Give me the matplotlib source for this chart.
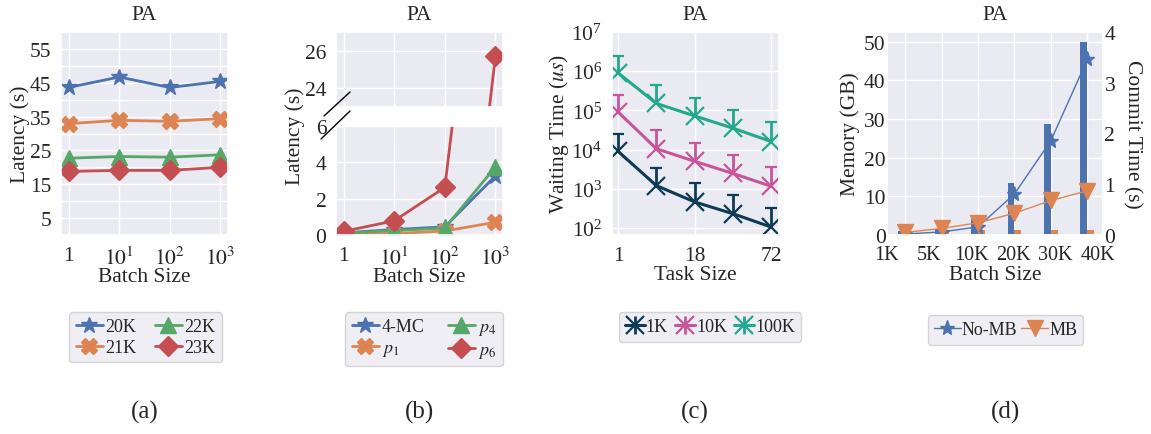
import numpy as np
import matplotlib
matplotlib.use('Agg')
import matplotlib.pyplot as plt
import seaborn as sns
from matplotlib.lines import Line2D

# ---------------- data ----------------
batch_sizes = [1, 10, 100, 1000]
batch_tick_labels = ['1', '$10^1$', '$10^2$', '$10^3$']

a_labels = ['20K', '21K', '22K', '23K']
a_20k = [43.6, 46.7, 43.6, 45.4]
a_21k = [32.9, 33.9, 33.6, 34.4]
a_22k = [22.7, 23.2, 23.0, 23.7]
a_23k = [18.8, 19.1, 19.1, 20.0]

b_labels = ['4-MC', '$p_1$', '$p_4$', '$p_6$']
b_4mc = [0.12, 0.30, 0.45, 3.25]
b_p1 = [0.08, 0.08, 0.22, 0.70]
b_p4 = [0.10, 0.25, 0.38, 3.75]
b_p6 = [0.20, 0.78, 2.62, 25.7]

c_task_sizes = ['1', '9', '18', '36', '72']
c_tick_labels = ['1', '18', '72']
c_labels = ['1K', '10K', '100K']
c_1k_mean = [9000, 1200, 460, 230, 105]
c_1k_upper = [25000, 3400, 1400, 680, 330]
c_10k_mean = [91000, 10500, 5000, 2450, 1150]
c_10k_upper = [240000, 32000, 15000, 7400, 3500]
c_100k_mean = [900000, 150000, 72000, 35000, 16000]
c_100k_upper = [2500000, 440000, 210000, 105000, 50000]

d_batch_labels = ['1K', '5K', '10K', '20K', '30K', '40K']
d_labels = ['No-MB', 'MB']
d_mem_nomb = [1.1, 1.6, 4.2, 13.5, 28.8, 50.0]
d_mem_mb = [1.0, 1.2, 1.2, 1.2, 1.2, 1.2]
d_commit_nomb = [0.02, 0.06, 0.16, 0.81, 1.86, 3.46]
d_commit_mb = [0.05, 0.13, 0.24, 0.43, 0.68, 0.87]

# ---------------- style ----------------
sns.set_theme(style='darkgrid')
plt.rcParams['font.family'] = ['Liberation Serif', 'DejaVu Serif']
plt.rcParams['mathtext.fontset'] = 'stix'
plt.rcParams['axes.unicode_minus'] = False

BLUE, ORANGE, GREEN, RED = '#4C72B0', '#DD8452', '#55A868', '#C44E52'
NAVY, PINK, TEAL = '#0d3b56', '#c7559a', '#22a88c'
FS = 15.5
LFS = 13

W, H = 1151, 435
fig = plt.figure(figsize=(W / 100, H / 100), dpi=100)


def px_axes(l, t, r, b):
    return fig.add_axes([l / W, 1 - b / H, (r - l) / W, (b - t) / H])


def style_ax(ax):
    ax.tick_params(axis='y', labelsize=FS, pad=1)
    ax.tick_params(axis='x', labelsize=FS, pad=2)


# ---------------- (a) ----------------
axa = px_axes(61, 33, 228, 236)
for ys, c, m, ms in [(a_20k, BLUE, '*', 12), (a_21k, ORANGE, 'X', 12),
                     (a_22k, GREEN, '^', 11), (a_23k, RED, 'D', 10)]:
    axa.plot(batch_sizes, ys, color=c, marker=m, ms=ms, lw=2)
axa.set_xscale('log')
axa.set_xticks(batch_sizes)
axa.set_xticklabels(batch_tick_labels)
axa.xaxis.set_minor_locator(matplotlib.ticker.NullLocator())
axa.set_ylim(0, 60)
axa.set_yticks(np.arange(5, 60, 10))
axa.set_yticks(np.arange(10, 60, 10), minor=True)
axa.grid(True, which='minor', axis='y', color='white', lw=1)
axa.tick_params(which='minor', length=0)
style_ax(axa)
axa.set_xlabel('Batch Size', fontsize=FS, labelpad=-1)
axa.set_ylabel('Latency (s)', fontsize=FS, labelpad=0)
axa.set_title('PA', fontsize=FS, pad=9)
fig.legend(axa.get_lines(), a_labels, loc='upper center', ncol=2,
           bbox_to_anchor=(145.5 / W, 1 - 304 / H), fontsize=LFS,
           handlelength=1.5, handletextpad=0.15, columnspacing=1.0,
           labelspacing=0.2, borderpad=0.35, frameon=True)

# ---------------- (b) ----------------
axb_top = px_axes(336, 33, 503, 108)
axb_bot = px_axes(336, 127, 503, 236)
for ax in (axb_top, axb_bot):
    for ys, c, m, ms in [(b_4mc, BLUE, '*', 12), (b_p1, ORANGE, 'X', 12),
                         (b_p4, GREEN, '^', 11), (b_p6, RED, 'D', 10)]:
        ax.plot(batch_sizes, ys, color=c, marker=m, ms=ms, lw=2)
    ax.set_xscale('log')
    ax.set_xticks(batch_sizes)
    ax.xaxis.set_minor_locator(matplotlib.ticker.NullLocator())
    style_ax(ax)
axb_top.set_xticklabels([])
axb_bot.set_xticklabels(batch_tick_labels)
axb_top.set_ylim(23, 27)
axb_top.set_yticks([24, 26])
axb_bot.set_ylim(0, 6)
axb_bot.set_yticks([0, 2, 4, 6])
xl = axb_bot.get_xlim()
axb_top.set_xlim(xl)
axb_bot.set_xlabel('Batch Size', fontsize=FS, labelpad=-1)
axb_top.set_title('PA', fontsize=FS, pad=9)
fig.text(295 / W, 1 - 136 / H, 'Latency (s)', rotation=90, fontsize=FS,
         ha='center', va='center')
for (x0, y0, x1, y1) in [(324, 117, 350, 93), (321, 140, 350, 112)]:
    fig.add_artist(Line2D([x0 / W, x1 / W], [1 - y0 / H, 1 - y1 / H],
                          color='black', lw=1, transform=fig.transFigure))
fig.legend(axb_bot.get_lines(), b_labels, loc='upper center', ncol=2,
           bbox_to_anchor=(424 / W, 1 - 304 / H), fontsize=LFS,
           handlelength=1.5, handletextpad=0.15, columnspacing=1.3,
           labelspacing=0.2, borderpad=0.35, frameon=True)

# ---------------- (c) ----------------
axc = px_axes(612, 33, 779, 236)
xc = np.arange(len(c_task_sizes))
handles_c = []
for mean, up, c in [(c_1k_mean, c_1k_upper, NAVY), (c_10k_mean, c_10k_upper, PINK),
                    (c_100k_mean, c_100k_upper, TEAL)]:
    mean = np.array(mean, float)
    up = np.array(up, float)
    cont = axc.errorbar(xc, mean, yerr=[np.zeros_like(mean), up - mean], color=c,
                        marker='x', ms=13, mew=1.6, lw=2.2, elinewidth=2,
                        capsize=4, capthick=2)
    cont[1][0].set_visible(False)
    handles_c.append(cont)
axc.set_yscale('log')
axc.set_ylim(66, 1e7)
axc.set_xlim(-0.16, 4.2)
axc.set_xticks([0, 2, 4])
axc.set_xticklabels(c_tick_labels)
axc.yaxis.set_minor_locator(matplotlib.ticker.NullLocator())
axc.set_yticks([1e2, 1e3, 1e4, 1e5, 1e6, 1e7])
style_ax(axc)
axc.set_xlabel('Task Size', fontsize=FS, labelpad=0)
axc.set_ylabel('Waiting Time ($us$)', fontsize=FS, labelpad=0)
axc.set_title('PA', fontsize=FS, pad=9)
fig.legend(handles_c, c_labels, loc='upper center', ncol=3,
           bbox_to_anchor=(710 / W, 1 - 304 / H), fontsize=LFS,
           handlelength=1.1, handletextpad=0.05, columnspacing=0.4,
           borderpad=0.35, frameon=True)

# ---------------- (d) ----------------
axd = px_axes(887, 33, 1103, 236)
xd = np.arange(len(d_batch_labels))
bw = 0.19
axd.bar(xd - bw / 2, d_mem_nomb, width=bw, color=BLUE, linewidth=0)
axd.bar(xd + bw / 2, d_mem_mb, width=bw, color=ORANGE, linewidth=0)
axd.set_xlim(-0.43, 5.43)
axd.set_ylim(0, 52.5)
axd.set_yticks([0, 10, 20, 30, 40, 50])
axd.set_xticks(xd)
axd.set_xticklabels([])
axd.set_xticks(np.linspace(-0.5, 5.28, len(d_batch_labels)), minor=True)
axd.set_xticklabels(d_batch_labels, minor=True)
axd.grid(False, which='minor')
axd.tick_params(which='both', length=0)
style_ax(axd)
axd.tick_params(axis='x', which='minor', labelsize=14.5, pad=7.5)
axd.set_ylabel('Memory (GB)', fontsize=FS, labelpad=3)
axd.set_xlabel('Batch Size', fontsize=FS, va='top')
axd.xaxis.set_label_coords(0.5, -0.15)
axd.set_title('PA', fontsize=FS, pad=9)
axd2 = axd.twinx()
l1, = axd2.plot(xd, d_commit_nomb, color=BLUE, marker='*', ms=11, lw=1)
l2, = axd2.plot(xd, d_commit_mb, color=ORANGE, marker='v', ms=11, lw=1)
axd2.set_ylim(0, 4)
axd2.set_yticks([0, 1, 2, 3, 4])
axd2.grid(False)
axd2.tick_params(labelsize=FS, pad=1, length=0)
axd2.set_ylabel('Commit Time (s)', fontsize=FS, rotation=270, labelpad=19)
fig.legend([l1, l2], d_labels, loc='upper center', ncol=2,
           bbox_to_anchor=(1005.5 / W, 1 - 307 / H), fontsize=LFS,
           handlelength=1.5, handletextpad=0.05, columnspacing=0.2,
           borderpad=0.35, frameon=True)

# ---------------- captions ----------------
for x, t in [(145, '(a)'), (420, '(b)'), (695, '(c)'), (1005, '(d)')]:
    fig.text(x / W, 1 - 412 / H, t, fontsize=18, ha='center', va='center')

fig.savefig('out.png', dpi=100)
